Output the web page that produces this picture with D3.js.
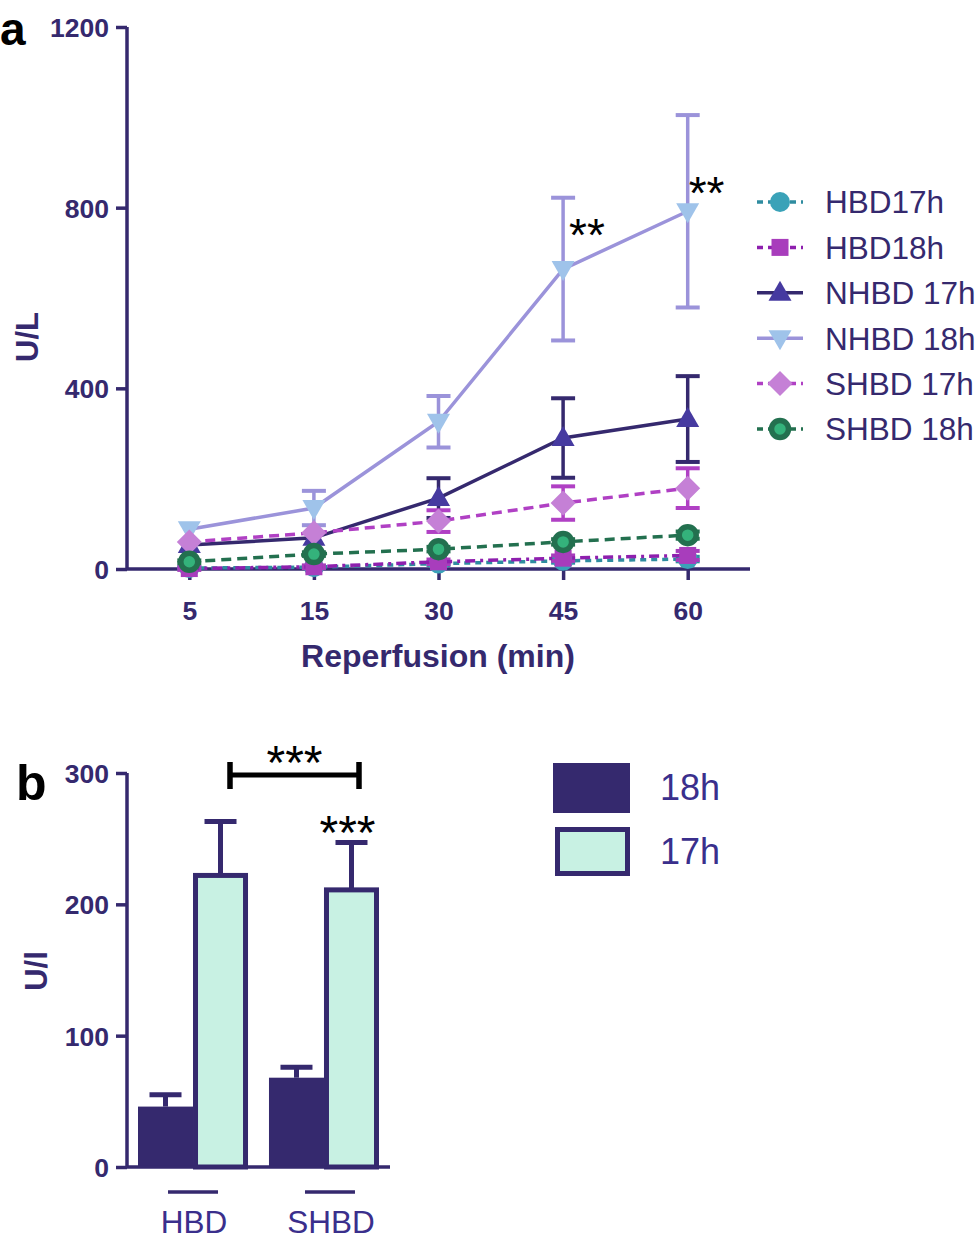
<!DOCTYPE html>
<html><head><meta charset="utf-8">
<script src="https://cdn.jsdelivr.net/npm/d3@7"></script>
<style>body{margin:0;background:#fff}svg{display:block}text{font-family:Arial,'Liberation Sans',sans-serif}</style>
</head><body>
<svg id="c" width="977" height="1245"></svg>
<script>
// ---- Data panel a ----
const times = ["5","15","30","45","60"];
const yTicksA = [0,400,800,1200];
const hbd17 = [2,4,12,18,22];
const hbd17Err = [2,2,3,4,5];
const hbd18 = [1,5,16,24,30];
const hbd18Err = [3,3,5,6,10];
const nhbd17 = [53,69,157,290,332];
const nhbd17Err = [0,0,44,88,95];
const nhbd18 = [88,135,326,664,792];
const nhbd18Err = [0,38,57,158,213];
const shbd17 = [60,80,106,146,179];
const shbd17Err = [0,0,24,37,44];
const shbd18 = [16,33,44,60,75];
const shbd18Err = [3,4,5,6,8];
const seriesNames = ["HBD17h","HBD18h","NHBD 17h","NHBD 18h","SHBD 17h","SHBD 18h"];
const sigA = [{t:"45",label:"**"},{t:"60",label:"**"}];

// ---- Data panel b ----
const groups = ["HBD","SHBD"];
const hours = ["18h","17h"];
const bar18 = [46,68];
const bar18Err = [9,8];
const bar17 = [222,211];
const bar17Err = [41,36];
const yTicksB = [0,100,200,300];

const AX = "#35296e";
const svg = d3.select("#c");

const styles = [
 {line:"#2f8ca0", dash:"6,5", marker:"circle", fill:"#3aa2b8", stroke:"none", err:"#2f8ca0"},
 {line:"#8e1fae", dash:"10,5,3,5", marker:"square", fill:"#a83dbc", stroke:"none", err:"#a83dbc"},
 {line:"#35296e", dash:null, marker:"triUp", fill:"#463aa0", stroke:"none", err:"#35296e"},
 {line:"#9b93da", dash:null, marker:"triDown", fill:"#9fc3ea", stroke:"none", err:"#9b93da"},
 {line:"#b040c4", dash:"10,6", marker:"diamond", fill:"#c580d6", stroke:"none", err:"#b040c4"},
 {line:"#23704f", dash:"10,6", marker:"ring", fill:"#34b27b", stroke:"#23704f", err:"#23704f"}
];
const vals = [hbd17,hbd18,nhbd17,nhbd18,shbd17,shbd18];
const errs = [hbd17Err,hbd18Err,nhbd17Err,nhbd18Err,shbd17Err,shbd18Err];

// Scales panel a
const xA = d3.scalePoint().domain(times).range([127,750]).padding(0.5);
const yA = d3.scaleLinear().domain([0,1200]).range([569,27]);

function drawMarker(g, type, x, y, st){
  if(type==="circle") g.append("circle").attr("cx",x).attr("cy",y).attr("r",10).attr("fill",st.fill);
  else if(type==="square") g.append("rect").attr("x",x-8.5).attr("y",y-8.5).attr("width",17).attr("height",17).attr("fill",st.fill);
  else if(type==="triUp") g.append("path").attr("d",`M${x},${y-12}L${x+11.5},${y+8}L${x-11.5},${y+8}Z`).attr("fill",st.fill);
  else if(type==="triDown") g.append("path").attr("d",`M${x},${y+12}L${x+11.5},${y-8}L${x-11.5},${y-8}Z`).attr("fill",st.fill);
  else if(type==="diamond") g.append("path").attr("d",`M${x},${y-12.5}L${x+12.5},${y}L${x},${y+12.5}L${x-12.5},${y}Z`).attr("fill",st.fill);
  else if(type==="ring") g.append("circle").attr("cx",x).attr("cy",y).attr("r",8.5).attr("fill",st.fill).attr("stroke",st.stroke).attr("stroke-width",5.5);
}

const gA = svg.append("g");
// axes
const yAxisA = d3.axisLeft(yA).tickValues(yTicksA).tickFormat(d3.format("d")).tickSize(11).tickPadding(7);
const ya = gA.append("g").attr("transform","translate(127,0)").call(yAxisA);
const xAxisA = d3.axisBottom(xA).tickSize(11).tickPadding(0);
const xa = gA.append("g").attr("transform","translate(0,569)").call(xAxisA);
[ya,xa].forEach(a=>{
  a.select(".domain").attr("stroke",AX).attr("stroke-width",3.5).attr("d", a===ya?"M0,27V569":"M127,0H750");
  a.selectAll(".tick line").attr("stroke",AX).attr("stroke-width",3.5);
  a.selectAll(".tick text").attr("fill",AX).attr("font-size",26.5).attr("font-weight","bold");
});
xa.selectAll(".tick text").attr("dy",null).attr("y",51);
ya.selectAll(".tick text").attr("dy","0.36em");

gA.append("text").attr("transform","translate(38,337) rotate(-90)").attr("text-anchor","middle")
  .attr("fill",AX).attr("font-size",31).attr("font-weight","bold").text("U/L");
gA.append("text").attr("x",438).attr("y",667).attr("text-anchor","middle")
  .attr("fill",AX).attr("font-size",32).attr("font-weight","bold").text("Reperfusion (min)");
svg.append("text").attr("x",0).attr("y",45).attr("font-size",46).attr("font-weight","bold").attr("fill","#000").text("a");

// series
vals.forEach((v,i)=>{
  const st = styles[i];
  const g = gA.append("g");
  v.forEach((d,j)=>{
    const e = errs[i][j]; if(!e) return;
    const x = xA(times[j]);
    g.append("line").attr("x1",x).attr("x2",x).attr("y1",yA(d+e)).attr("y2",yA(d-e)).attr("stroke",st.err).attr("stroke-width",3.5);
    [d+e,d-e].forEach(val=>g.append("line").attr("x1",x-12).attr("x2",x+12).attr("y1",yA(val)).attr("y2",yA(val)).attr("stroke",st.err).attr("stroke-width",4));
  });
  const line = d3.line().x((d,j)=>xA(times[j])).y(d=>yA(d));
  g.append("path").datum(v).attr("d",line).attr("fill","none").attr("stroke",st.line).attr("stroke-width",3.5)
    .attr("stroke-dasharray",st.dash);
  v.forEach((d,j)=>drawMarker(g, st.marker, xA(times[j]), yA(d), st));
});
// significance a
sigA.forEach(s=>{
  const i = times.indexOf(s.t);
  const top = yA(nhbd18[i]);
  gA.append("text").attr("x",xA(s.t)+(s.t==="45"?6:1)).attr("y",top + (s.t==="45"? -18 : -2)).attr("font-size",46).attr("fill","#000").text(s.label);
});

// legend a
seriesNames.forEach((n,i)=>{
  const st = styles[i]; const y = 202 + i*45.4;
  const g = svg.append("g");
  g.append("line").attr("x1",757).attr("x2",803).attr("y1",y).attr("y2",y).attr("stroke",st.line).attr("stroke-width",3.5).attr("stroke-dasharray",st.dash? "6,5":null);
  drawMarker(g, st.marker, 780, y, st);
  g.append("text").attr("x",825).attr("y",y).attr("dy","0.36em").attr("font-size",31.5).attr("fill",AX).text(n);
});

// ---- Panel b ----
const BX = "#35296e";
const LBL = "#3a2f8c";
const xB = d3.scaleBand().domain(groups).range([127,390]).paddingInner(0.16).paddingOuter(0.084);
const xSub = d3.scaleBand().domain(hours).range([0,xB.bandwidth()]);
const yB = d3.scaleLinear().domain([0,300]).range([1167,773]);
const gB = svg.append("g");
const yb = gB.append("g").attr("transform","translate(127,0)").call(d3.axisLeft(yB).tickValues(yTicksB).tickFormat(d3.format("d")).tickSize(11).tickPadding(7));
yb.select(".domain").attr("stroke",BX).attr("stroke-width",3.5).attr("d","M0,773V1167");
yb.selectAll(".tick line").attr("stroke",BX).attr("stroke-width",3.5);
yb.selectAll(".tick text").attr("fill",AX).attr("font-size",26.5).attr("font-weight","bold").attr("dy","0.36em");

groups.forEach((gname,gi)=>{
  const x0 = xB(gname);
  const xd = x0 + xSub("18h"), w = xSub.bandwidth();
  gB.append("line").attr("x1",xd+w/2).attr("x2",xd+w/2).attr("y1",yB(bar18[gi])).attr("y2",yB(bar18[gi]+bar18Err[gi])).attr("stroke",BX).attr("stroke-width",5);
  gB.append("line").attr("x1",xd+w/2-16).attr("x2",xd+w/2+16).attr("y1",yB(bar18[gi]+bar18Err[gi])).attr("y2",yB(bar18[gi]+bar18Err[gi])).attr("stroke",BX).attr("stroke-width",5);
  gB.append("rect").attr("x",xd).attr("y",yB(bar18[gi])).attr("width",w).attr("height",yB(0)-yB(bar18[gi])).attr("fill",BX);
  const xl = x0 + xSub("17h");
  gB.append("line").attr("x1",xl+w/2).attr("x2",xl+w/2).attr("y1",yB(bar17[gi])).attr("y2",yB(bar17[gi]+bar17Err[gi])).attr("stroke",BX).attr("stroke-width",5);
  gB.append("line").attr("x1",xl+w/2-16).attr("x2",xl+w/2+16).attr("y1",yB(bar17[gi]+bar17Err[gi])).attr("y2",yB(bar17[gi]+bar17Err[gi])).attr("stroke",BX).attr("stroke-width",5);
  gB.append("rect").attr("x",xl+2.5).attr("y",yB(bar17[gi])).attr("width",w-5).attr("height",yB(0)-yB(bar17[gi])).attr("fill","#c8f1e3").attr("stroke",BX).attr("stroke-width",5);
  const cx = x0 + xB.bandwidth()/2 + (gi===1?6:0);
  gB.append("line").attr("x1",cx-25).attr("x2",cx+25).attr("y1",1192).attr("y2",1192).attr("stroke",BX).attr("stroke-width",3.5);
  gB.append("text").attr("x",cx+1).attr("y",1233).attr("text-anchor","middle").attr("font-size",31.5).attr("fill",LBL).text(gname);
});
gB.append("line").attr("x1",127).attr("x2",390).attr("y1",1167).attr("y2",1167).attr("stroke",BX).attr("stroke-width",3.5);

gB.append("text").attr("transform","translate(47,971) rotate(-90)").attr("text-anchor","middle")
  .attr("fill",AX).attr("font-size",31).attr("font-weight","bold").text("U/l");
svg.append("text").attr("x",16).attr("y",800).attr("font-size",50).attr("font-weight","bold").attr("fill","#000").text("b");

// significance b
const bx1 = 230, bx2 = 359, by = 775;
gB.append("line").attr("x1",bx1).attr("x2",bx2).attr("y1",by).attr("y2",by).attr("stroke","#000").attr("stroke-width",5);
[bx1,bx2].forEach(x=>gB.append("line").attr("x1",x).attr("x2",x).attr("y1",by-13).attr("y2",by+14).attr("stroke","#000").attr("stroke-width",5.5));
gB.append("text").attr("x",(bx1+bx2)/2).attr("y",779).attr("text-anchor","middle").attr("font-size",48).attr("fill","#000").text("***");
const lx = xB("SHBD") + xSub("17h") + xSub.bandwidth()/2;
gB.append("text").attr("x",lx-4).attr("y",yB(bar17[1]+bar17Err[1])+6).attr("text-anchor","middle").attr("font-size",48).attr("fill","#000").text("***");

// legend b
const legB = [{k:"18h",fill:BX,y:763},{k:"17h",fill:"#c8f1e3",y:827}];
legB.forEach(l=>{
  if(l.k==="18h") svg.append("rect").attr("x",553).attr("y",l.y).attr("width",77).attr("height",50).attr("fill",l.fill);
  else svg.append("rect").attr("x",557.5).attr("y",l.y+2.5).attr("width",70).attr("height",44).attr("fill",l.fill).attr("stroke",BX).attr("stroke-width",5);
  svg.append("text").attr("x",660).attr("y",l.y+24).attr("dy","0.36em").attr("font-size",36).attr("fill",LBL).text(l.k);
});
</script>
</body></html>
